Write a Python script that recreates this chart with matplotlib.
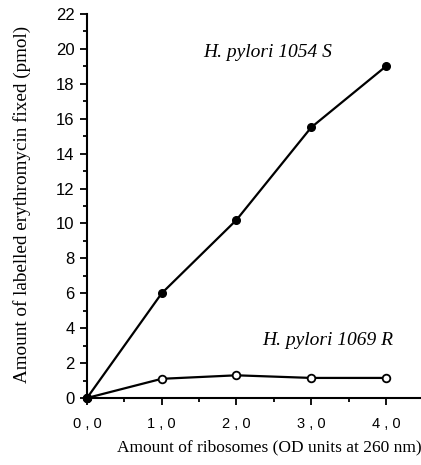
import matplotlib
matplotlib.use("Agg")
import matplotlib.pyplot as plt
from matplotlib.ticker import MultipleLocator, FixedLocator

# data
ribosomes = [0.0, 1.0, 2.0, 3.0, 4.0]
strain_s = [0.0, 6.0, 10.2, 15.5, 19.0]
strain_r = [0.0, 1.1, 1.3, 1.15, 1.15]
xtick_vals = [0, 1, 2, 3, 4]
xtick_labels = ["0 , 0", "1 , 0", "2 , 0", "3 , 0", "4 , 0"]
ytick_vals = list(range(0, 23, 2))

fig = plt.figure(figsize=(4.21, 4.65), dpi=100)
ax = fig.add_axes([87 / 421, 67 / 465, 334 / 421, 384 / 465])

ax.plot(ribosomes, strain_s, color="black", lw=1.6, marker="o", ms=5.5,
        mfc="black", mec="black", clip_on=False, zorder=3)
ax.plot(ribosomes, strain_r, color="black", lw=1.6, marker="o", ms=5.5,
        mfc="white", mec="black", mew=1.3, clip_on=False, zorder=3)
# origin point drawn solid
ax.plot([ribosomes[0]], [strain_s[0]], marker="o", ms=5.5, color="black",
        clip_on=False, zorder=4)

ax.set_xlim(0, 4.47)
ax.set_ylim(0, 22)

for s in ["top", "right"]:
    ax.spines[s].set_visible(False)
for s in ["left", "bottom"]:
    ax.spines[s].set_linewidth(1.5)

ax.xaxis.set_major_locator(FixedLocator(xtick_vals))
ax.set_xticklabels(xtick_labels, fontfamily="Liberation Sans", fontsize=10.5)
ax.xaxis.set_minor_locator(MultipleLocator(0.5))
ax.yaxis.set_major_locator(FixedLocator(ytick_vals))
ax.set_yticklabels([str(v) for v in ytick_vals], fontfamily="Liberation Sans", fontsize=12)
ax.yaxis.set_minor_locator(MultipleLocator(1))
ax.tick_params(which="major", length=5, width=1.3, direction="out", pad=4)
ax.tick_params(which="minor", length=3, width=1.3, direction="out")
ax.tick_params(axis="x", which="major", pad=9)

ax.set_xlabel("Amount of ribosomes (OD units at 260 nm)", fontfamily="Liberation Serif",
              fontsize=12.5)
ax.xaxis.set_label_coords(0.545, -0.128)
ax.xaxis.label.set_va("center")
ax.set_ylabel("Amount of labelled erythromycin fixed (pmol)", fontfamily="Liberation Serif",
              fontsize=13.8)
ax.yaxis.set_label_coords(-0.195, 0.503)
ax.yaxis.label.set_va("center")

ax.text(1.55, 19.8, "H. pylori 1054 S", fontfamily="Liberation Serif", style="italic",
        fontsize=14, va="center", ha="left")
ax.text(2.34, 3.27, "H. pylori 1069 R", fontfamily="Liberation Serif", style="italic",
        fontsize=14, va="center", ha="left")

fig.savefig("out.png", dpi=100)
